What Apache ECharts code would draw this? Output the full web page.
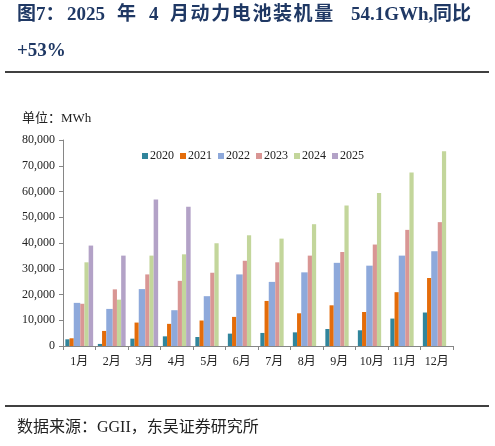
<!DOCTYPE html>
<html><head><meta charset="utf-8">
<script src="https://cdn.jsdelivr.net/npm/echarts@6/dist/echarts.min.js"></script>
<style>html,body{margin:0;padding:0;background:#fff}#c{width:495px;height:446px}</style>
</head><body><div id="c"></div>
<script>
const months = ['1月','2月','3月','4月','5月','6月','7月','8月','9月','10月','11月','12月'];
const years = ['2020','2021','2022','2023','2024','2025'];
const v2020 = [2600, 800, 2850, 3750, 3500, 4800, 5070, 5300, 6600, 6100, 10650, 13000];
const v2021 = [3000, 5850, 9100, 8600, 9900, 11300, 17500, 12700, 15800, 13200, 20900, 26400];
const v2022 = [16750, 14400, 22100, 13900, 19350, 27800, 24900, 28600, 32300, 31200, 35100, 36800];
const v2023 = [16400, 22000, 27800, 25300, 28450, 33100, 32500, 35100, 36500, 39400, 45100, 48100];
const v2024 = [32500, 18000, 35100, 35600, 39900, 43000, 41700, 47300, 54600, 59400, 67400, 75600];
const v2025 = [39000, 35100, 56900, 54100];
const yTicks = [0,10000,20000,30000,40000,50000,60000,70000,80000];
const colors = ['#31859C','#E46C0A','#8EA9DB','#D99694','#C3D69B','#B3A2C7'];
const widths = [4.2, 4.2, 6.5, 4.2, 4.2, 4.5];
const data = [v2020, v2021, v2022, v2023, v2024, v2025];

const serif = "'Liberation Serif','Times New Roman','Noto Sans CJK SC',serif";
const chart = echarts.init(document.getElementById('c'));
const titleStyle = {fill:'#1F3864', font:"bold 19px 'Liberation Serif','Noto Sans CJK SC',serif", textVerticalAlign:'middle'};
function t(x, y, text, style){ return {type:'text', left:x, top:y, style:Object.assign({text:text}, style)}; }
const spread = '月动力电池装机量'.split('').map((ch,i)=>t(170 + i*20.6, 6, ch, titleStyle));
chart.setOption({
  animation:false,
  color: colors,
  grid:{left:63, right:42, top:140, bottom:100},
  legend:{
    top:145, left:137, itemWidth:6, itemHeight:6, itemGap:6,
    icon:'rect',
    textStyle:{fontFamily:serif, fontSize:12, color:'#222', padding:[0,0,0,-3]},
    data: years
  },
  xAxis:{
    type:'category', data:months,
    axisLine:{lineStyle:{color:'#868686', width:1}},
    axisTick:{show:true, length:4, lineStyle:{color:'#868686'}},
    axisLabel:{fontFamily:serif, fontSize:12, color:'#222', margin:10}
  },
  yAxis:{
    type:'value', min:0, max:80000, interval:10000,
    splitLine:{show:false},
    axisLine:{show:true, lineStyle:{color:'#868686'}},
    axisTick:{show:true, length:4, inside:false, lineStyle:{color:'#868686'}},
    axisLabel:{fontFamily:serif, fontSize:12, color:'#222', margin:8,
      formatter: v => yTicks.includes(v) ? v.toLocaleString('en-US') : ''}
  },
  series: years.map((y,i)=>({
    name:y, type:'bar', data:data[i], barWidth:widths[i], barGap:'0%',
    itemStyle:{color: colors[i]}
  })),
  graphic:[
    t(17, 6, '图7：', titleStyle),
    t(67, 6, '2025', titleStyle),
    t(117, 6, '年', titleStyle),
    t(149, 6, '4', titleStyle),
    ...spread,
    t(351, 6, '54.1GWh,', titleStyle),
    t(433, 6, '同比', titleStyle),
    t(17, 42, '+53%', titleStyle),
    {type:'line', shape:{x1:5,y1:72,x2:489,y2:72}, style:{stroke:'#000', lineWidth:1.5}},
    t(22, 112, '单位：MWh', {fill:'#222', font:"13px 'Liberation Serif','Noto Sans CJK SC',serif"}),
    {type:'line', shape:{x1:5,y1:406,x2:489,y2:406}, style:{stroke:'#000', lineWidth:1.5}},
    t(17, 420, '数据来源：GGII，东吴证券研究所', {fill:'#222', font:"16px 'Liberation Serif','Noto Sans CJK SC',serif"})
  ]
});
</script></body></html>
